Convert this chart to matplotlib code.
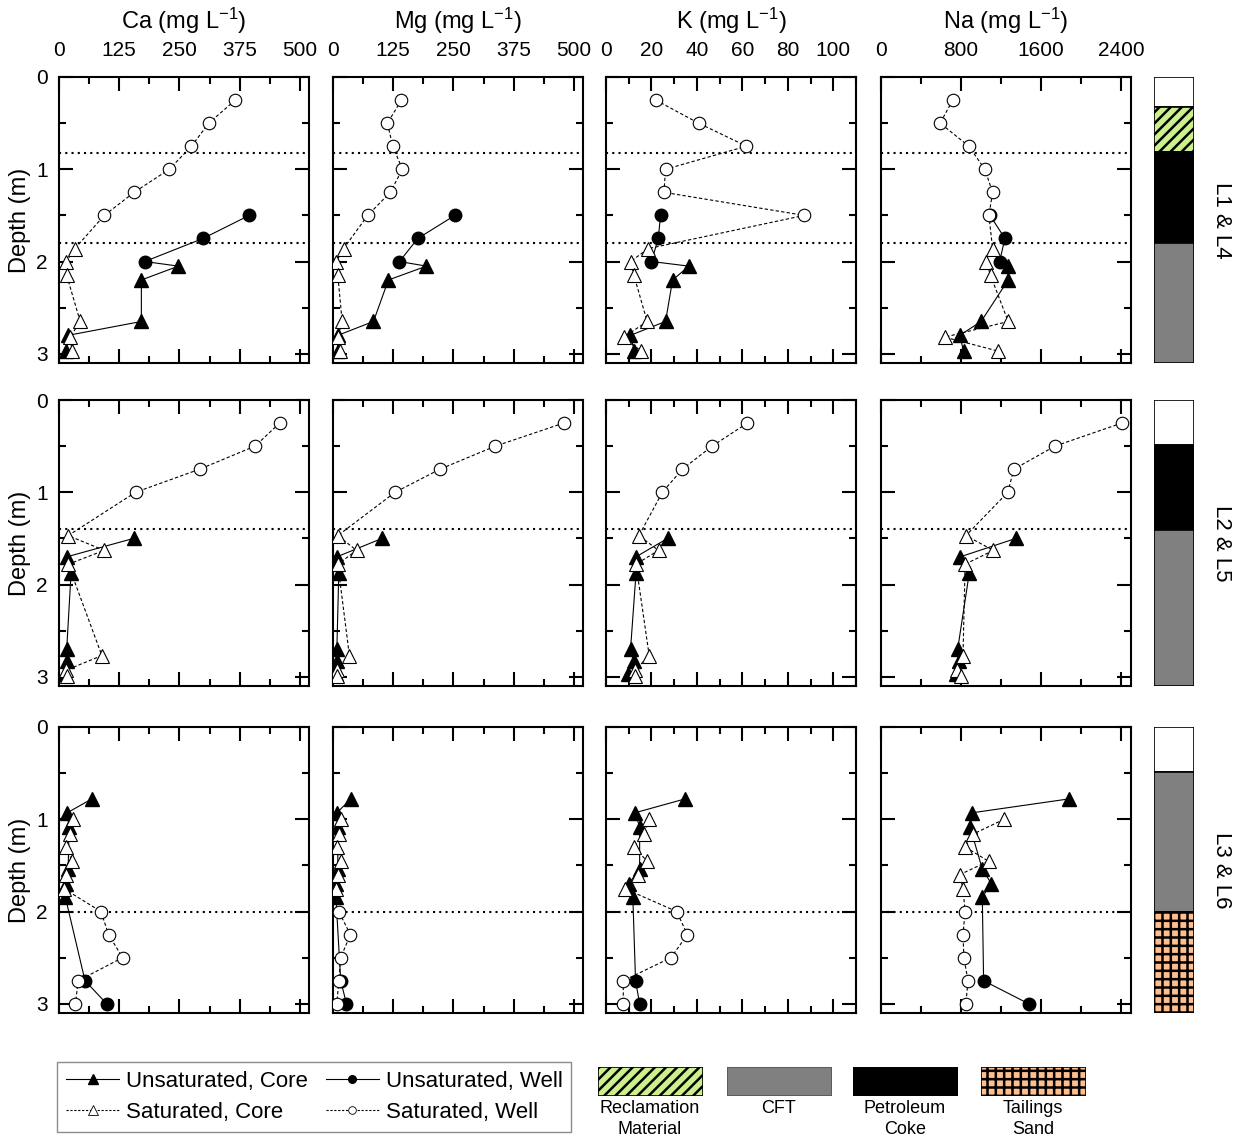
import matplotlib
matplotlib.use('Agg')
import matplotlib.pyplot as plt
from matplotlib.ticker import MultipleLocator
from matplotlib.lines import Line2D

plt.rcParams['font.family'] = ['Liberation Sans', 'DejaVu Sans']
plt.rcParams['mathtext.fontset'] = 'custom'
plt.rcParams['mathtext.rm'] = 'Liberation Sans'
plt.rcParams['mathtext.default'] = 'regular'
plt.rcParams['hatch.linewidth'] = 1.8

elements = ['Ca', 'Mg', 'K', 'Na']

# ---- L1 & L4 ----
r1_uw_depth = [1.5, 1.75, 2.0]
r1_uw = {'Ca': [395, 299, 178], 'Mg': [253, 176, 138],
         'K': [24, 23, 20], 'Na': [1090, 1239, 1186]}
r1_uc_depth = [2.05, 2.2, 2.65, 2.8, 2.97]
r1_uc = {'Ca': [248, 171, 171, 19, 15], 'Mg': [194, 115, 84, 10, 10],
         'K': [36.5, 29.3, 26.2, 10.7, 12.5], 'Na': [1268, 1272, 1001, 788, 825]}
r1_sw_depth = [0.25, 0.5, 0.75, 1.0, 1.25, 1.5]
r1_sw = {'Ca': [366, 311, 275, 229, 156, 94], 'Mg': [142, 113, 124, 144, 119, 72],
         'K': [21.9, 40.7, 61.8, 26.2, 25.5, 87.2], 'Na': [718, 591, 878, 1038, 1116, 1079]}
r1_sc_depth = [1.86, 2.0, 2.15, 2.65, 2.82, 2.97]
r1_sc = {'Ca': [33, 15, 16, 44, 23, 27], 'Mg': [22, 7, 10, 19, 10, 14],
         'K': [18.6, 10.8, 12.3, 18.1, 7.8, 15.4], 'Na': [1116, 1054, 1095, 1272, 636, 1169]}

# ---- L2 & L5 ----
r2_uw_depth = []
r2_uw = {'Ca': [], 'Mg': [], 'K': [], 'Na': []}
r2_uc_depth = [1.5, 1.7, 1.88, 2.7, 2.83, 2.97]
r2_uc = {'Ca': [155, 16, 25, 16, 16, 13], 'Mg': [102, 8, 12, 8, 8, 6],
         'K': [27.1, 13.2, 13.2, 10.8, 12.1, 9.6], 'Na': [1350, 792, 882, 767, 775, 751]}
r2_sw_depth = [0.25, 0.5, 0.75, 1.0]
r2_sw = {'Ca': [458, 407, 292, 159], 'Mg': [479, 337, 222, 129],
         'K': [62.2, 46.7, 33.6, 24.8], 'Na': [2408, 1739, 1329, 1268]}
r2_sc_depth = [1.47, 1.63, 1.78, 2.77, 2.93, 2.99]
r2_sc = {'Ca': [19, 94, 19, 89, 14, 16], 'Mg': [10, 49, 10, 34, 8, 8],
         'K': [14.5, 23.1, 13.2, 19.0, 12.7, 12.7], 'Na': [849, 1124, 841, 820, 759, 800]}

# ---- L3 & L6 ----
r3_uw_depth = [2.75, 3.0]
r3_uw = {'Ca': [54, 99], 'Mg': [16, 28], 'K': [13.0, 14.8], 'Na': [1026, 1477]}
r3_uc_depth = [0.78, 0.93, 1.08, 1.54, 1.70, 1.84]
r3_uc = {'Ca': [68, 17, 21, 19, 15, 13], 'Mg': [37, 8, 10, 10, 7, 6],
         'K': [34.7, 12.7, 14.8, 14.8, 9.9, 11.8], 'Na': [1875, 911, 890, 1013, 1104, 1013]}
r3_sw_depth = [2.0, 2.25, 2.5, 2.75, 3.0]
r3_sw = {'Ca': [87, 103, 132, 40, 34], 'Mg': [12, 36, 16, 12, 8],
         'K': [31.1, 35.8, 28.6, 7.6, 7.6], 'Na': [841, 820, 829, 870, 849]}
r3_sc_depth = [1.0, 1.16, 1.3, 1.455, 1.6, 1.755]
r3_sc = {'Ca': [30, 23, 15, 27, 15, 11], 'Mg': [16, 12, 8, 16, 11, 7],
         'K': [19.0, 16.6, 12.3, 18.1, 13.9, 8.5], 'Na': [1231, 923, 841, 1075, 788, 820]}

row_names = ['L1 & L4', 'L2 & L5', 'L3 & L6']
water_lines = [[0.82, 1.8], [1.4], [2.0]]
strata = [
    [(0, 0.33, 'none'), (0.33, 0.81, 'recl'), (0.81, 1.8, 'coke'), (1.8, 3.1, 'cft')],
    [(0, 0.49, 'none'), (0.49, 1.41, 'coke'), (1.41, 3.1, 'cft')],
    [(0, 0.49, 'none'), (0.49, 2.0, 'cft'), (2.0, 3.1, 'sand')],
]
titles = {'Ca': 'Ca (mg L$^{-1}$)', 'Mg': 'Mg (mg L$^{-1}$)',
          'K': 'K (mg L$^{-1}$)', 'Na': 'Na (mg L$^{-1}$)'}
xmax = {'Ca': 519, 'Mg': 519, 'K': 110, 'Na': 2500}
xmajor = {'Ca': 125, 'Mg': 125, 'K': 20, 'Na': 800}

layer_style = {
    'none': dict(color='white', hatch=None),
    'recl': dict(color='#ccf08c', hatch='///'),
    'cft': dict(color='#808080', hatch=None),
    'coke': dict(color='black', hatch=None),
    'sand': dict(color='#ffbe8c', hatch='++'),
}
layer_labels = [('recl', 'Reclamation\nMaterial'), ('cft', 'CFT'),
                ('coke', 'Petroleum\nCoke'), ('sand', 'Tailings\nSand')]

rows = [
    (r1_uc_depth, r1_uc, r1_uw_depth, r1_uw, r1_sc_depth, r1_sc, r1_sw_depth, r1_sw),
    (r2_uc_depth, r2_uc, r2_uw_depth, r2_uw, r2_sc_depth, r2_sc, r2_sw_depth, r2_sw),
    (r3_uc_depth, r3_uc, r3_uw_depth, r3_uw, r3_sc_depth, r3_sc, r3_sw_depth, r3_sw),
]

W, H = 1244, 1139
fig = plt.figure(figsize=(W / 100, H / 100), dpi=100)


def px_axes(x, y, w, h):
    return fig.add_axes([x / W, 1 - (y + h) / H, w / W, h / H])


col_x = [59, 333, 606, 881]
row_y = [77, 400, 727]
pw, ph = 250, 286
YMAX = 3.1


def joined(d1, v1, d2, v2):
    pts = sorted(zip(list(d1) + list(d2), list(v1) + list(v2)))
    return [p[1] for p in pts], [p[0] for p in pts]


for r, (ucd, uc, uwd, uw, scd, sc, swd, sw) in enumerate(rows):
    for c, el in enumerate(elements):
        ax = px_axes(col_x[c], row_y[r], pw, ph)
        ax.set_xlim(0, xmax[el])
        ax.set_ylim(YMAX, 0)

        xs, ys = joined(ucd, uc[el], uwd, uw[el])
        ax.plot(xs, ys, color='black', lw=0.8, zorder=2)
        xs, ys = joined(scd, sc[el], swd, sw[el])
        ax.plot(xs, ys, color='black', lw=0.8, ls=(0, (3, 2)), zorder=2)

        ax.plot(uc[el], ucd, ls='none', marker='^', ms=10, mfc='black', mec='black', zorder=3)
        ax.plot(uw[el], uwd, ls='none', marker='o', ms=9, mfc='black', mec='black', zorder=3)
        ax.plot(sc[el], scd, ls='none', marker='^', ms=10, mfc='white', mec='black', mew=0.8, zorder=4)
        ax.plot(sw[el], swd, ls='none', marker='o', ms=9, mfc='white', mec='black', mew=0.8, zorder=4)

        for wl in water_lines[r]:
            ax.axhline(wl, color='black', lw=1.5, ls=(0, (1, 2)), zorder=1)

        ax.xaxis.set_major_locator(MultipleLocator(xmajor[el]))
        ax.xaxis.set_minor_locator(MultipleLocator(xmajor[el] / 2))
        ax.yaxis.set_major_locator(MultipleLocator(1))
        ax.yaxis.set_minor_locator(MultipleLocator(0.5))
        ax.tick_params(which='both', direction='in', top=True, bottom=True,
                       left=True, right=True, width=1.5, labelsize=15)
        ax.tick_params(which='major', length=10)
        ax.tick_params(which='minor', length=5)
        ax.tick_params(axis='x', labelbottom=False, labeltop=(r == 0), pad=12)
        ax.tick_params(axis='y', labelleft=(c == 0), pad=8)
        for s in ax.spines.values():
            s.set_linewidth(1.5)
        if c == 0:
            ax.set_ylabel('Depth (m)', fontsize=17, labelpad=4)
        if r == 0:
            fig.text((col_x[c] + pw / 2) / W, 1 - 21 / H, titles[el],
                     ha='center', va='center', fontsize=17)

    # stratigraphy column
    sx = px_axes(1154, row_y[r], 40, ph)
    sx.set_xlim(0, 1)
    sx.set_ylim(YMAX, 0)
    sx.axis('off')
    for top, bot, kind in strata[r]:
        st = layer_style[kind]
        sx.bar(0.5, bot - top, bottom=top, width=1, color=st['color'],
               hatch=st['hatch'], edgecolor='black', lw=1.2)
    fig.text(1222 / W, 1 - (row_y[r] + ph * 0.5) / H, row_names[r],
             rotation=270, ha='center', va='center', fontsize=16)

# legend for series
handles = [
    Line2D([], [], color='black', lw=0.8, marker='^', ms=7, mfc='black'),
    Line2D([], [], color='black', lw=0.8, ls=(0, (2, 1.5)), marker='^', ms=7, mfc='white', mew=0.6),
    Line2D([], [], color='black', lw=0.8, marker='o', ms=5.5, mfc='black'),
    Line2D([], [], color='black', lw=0.8, ls=(0, (2, 1.5)), marker='o', ms=5.5, mfc='white', mew=0.6),
]
labels = ['Unsaturated, Core', 'Saturated, Core', 'Unsaturated, Well', 'Saturated, Well']
leg = fig.legend(handles, labels, ncol=2, loc='lower left',
                 bbox_to_anchor=(57 / W, 1 - 1132 / H), fontsize=16,
                 handlelength=2.4, handletextpad=0.3, columnspacing=0.8,
                 borderpad=0.4, labelspacing=0.45, borderaxespad=0,
                 fancybox=False, frameon=True)
leg.get_frame().set_edgecolor('#707070')
leg.get_frame().set_linewidth(1.0)

# legend for layers
lx = [598, 727, 853, 981]
for (kind, text), x0 in zip(layer_labels, lx):
    st = layer_style[kind]
    la = px_axes(x0, 1067, 105, 29)
    la.set_xlim(0, 1)
    la.set_ylim(0, 1)
    la.axis('off')
    la.bar(0.5, 1, bottom=0, width=1, color=st['color'], hatch=st['hatch'],
           edgecolor='black' if kind != 'cft' else '#555555', lw=1.2)
    fig.text((x0 + 52) / W, 1 - 1100 / H, text, ha='center', va='top',
             fontsize=13, linespacing=1.3)

fig.savefig('out.png', dpi=100)
